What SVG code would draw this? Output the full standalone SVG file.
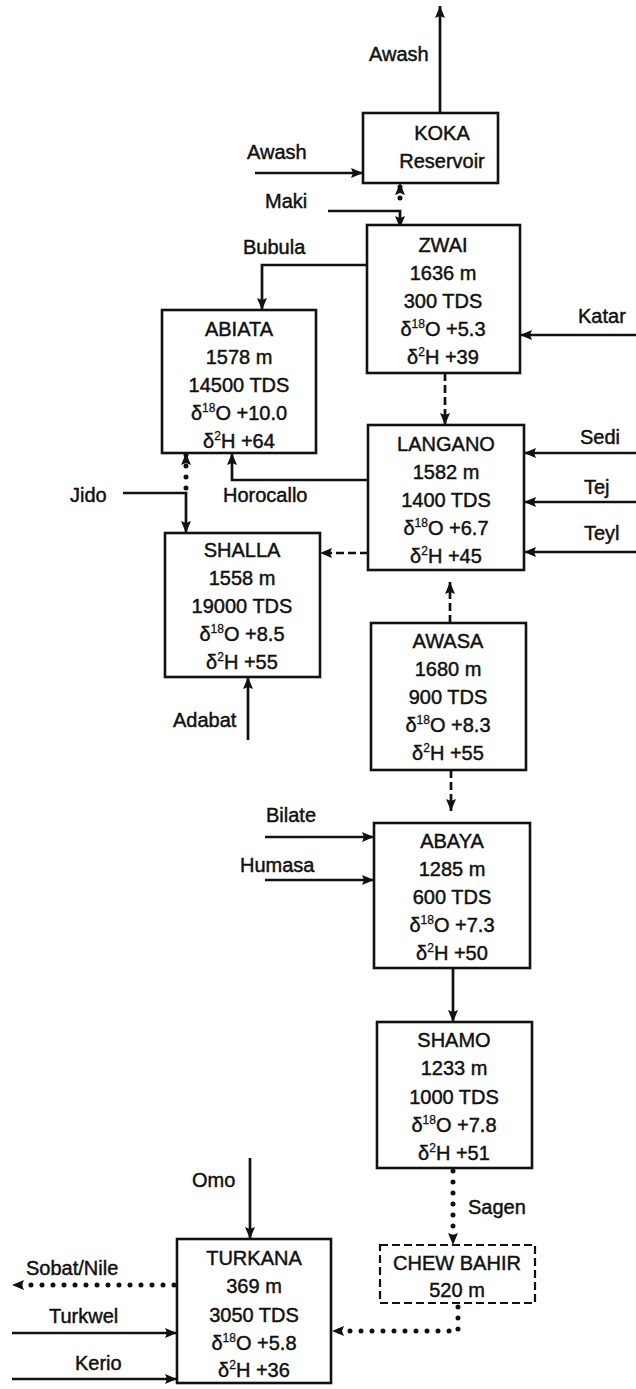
<svg xmlns="http://www.w3.org/2000/svg" width="636" height="1389" viewBox="0 0 636 1389">
<style>
text{font-family:"Liberation Sans",Arial,sans-serif;font-size:20px;fill:#111;stroke:#111;stroke-width:0.45}
.n text{text-anchor:middle}
.box{fill:#fff;stroke:#111;stroke-width:2.6}
.dbox{fill:#fff;stroke:#111;stroke-width:2.2;stroke-dasharray:8 4}
.c{fill:none;stroke:#111;stroke-width:2.7}
.dash{stroke-dasharray:8 4}
.dot{stroke-width:5;stroke-linecap:round;stroke-dasharray:0 11}
.sup{font-size:12px;stroke-width:0.3}
</style>
<defs>
<marker id="a" markerUnits="userSpaceOnUse" viewBox="0 0 12 10" markerWidth="12" markerHeight="10" refX="12" refY="5" orient="auto">
<path d="M0,0 L12,5 L0,10 L2,5 z" fill="#111" stroke="none"/>
</marker>
</defs>
<g id="connectors">
<line class="c" x1="440" y1="113" x2="440" y2="6" marker-end="url(#a)"/>
<line class="c" x1="255" y1="173" x2="363" y2="173" marker-end="url(#a)"/>
<line class="c dot" x1="400" y1="198" x2="400" y2="183" marker-end="url(#a)"/>
<polyline class="c" points="328,211 400,211 400,228" marker-end="url(#a)"/>
<polyline class="c" points="367,265 262,265 262,310" marker-end="url(#a)"/>
<line class="c" x1="636" y1="335" x2="520" y2="335" marker-end="url(#a)"/>
<line class="c dash" x1="445" y1="373" x2="445" y2="425" marker-end="url(#a)"/>
<line class="c" x1="636" y1="453" x2="524" y2="453" marker-end="url(#a)"/>
<line class="c" x1="636" y1="502" x2="524" y2="502" marker-end="url(#a)"/>
<line class="c" x1="636" y1="552" x2="524" y2="552" marker-end="url(#a)"/>
<polyline class="c" points="368,480 232,480 232,453" marker-end="url(#a)"/>
<line class="c dot" x1="186" y1="488" x2="186" y2="453" marker-end="url(#a)"/>
<polyline class="c" points="123,493 186,493 186,533" marker-end="url(#a)"/>
<line class="c dash" x1="368" y1="553" x2="320" y2="553" marker-end="url(#a)"/>
<line class="c" x1="248" y1="740" x2="248" y2="677" marker-end="url(#a)"/>
<line class="c dash" x1="450" y1="623" x2="450" y2="582" marker-end="url(#a)"/>
<line class="c dash" x1="451" y1="770" x2="451" y2="811" marker-end="url(#a)"/>
<line class="c" x1="265" y1="837" x2="374" y2="837" marker-end="url(#a)"/>
<line class="c" x1="265" y1="880" x2="374" y2="880" marker-end="url(#a)"/>
<line class="c" x1="453" y1="968" x2="453" y2="1022" marker-end="url(#a)"/>
<line class="c dot" x1="453" y1="1171" x2="453" y2="1245" marker-end="url(#a)"/>
<line class="c" x1="250" y1="1158" x2="250" y2="1239" marker-end="url(#a)"/>
<line class="c dot" x1="174" y1="1285" x2="12" y2="1285" marker-end="url(#a)"/>
<line class="c" x1="12" y1="1333" x2="177" y2="1333" marker-end="url(#a)"/>
<line class="c" x1="12" y1="1379" x2="177" y2="1379" marker-end="url(#a)"/>
<polyline class="c dot" points="458,1307 458,1331 332,1331" marker-end="url(#a)"/>
</g>
<g id="labels">
<text x="369" y="61">Awash</text>
<text x="247" y="159">Awash</text>
<text x="265" y="208">Maki</text>
<text x="243" y="254">Bubula</text>
<text x="578" y="323">Katar</text>
<text x="580" y="444">Sedi</text>
<text x="584" y="494">Tej</text>
<text x="584" y="540">Teyl</text>
<text x="70" y="502">Jido</text>
<text x="223" y="502">Horocallo</text>
<text x="173" y="727">Adabat</text>
<text x="266" y="822">Bilate</text>
<text x="240" y="872">Humasa</text>
<text x="192" y="1187">Omo</text>
<text x="468" y="1214">Sagen</text>
<text x="26" y="1275">Sobat/Nile</text>
<text x="49" y="1323">Turkwel</text>
<text x="75" y="1370">Kerio</text>
</g>
<g id="koka" class="n">
<rect class="box" x="363" y="113" width="135" height="70"/>
<text x="442" y="140">KOKA</text>
<text x="442" y="168">Reservoir</text>
</g>
<g id="zwai" class="n">
<rect class="box" x="367" y="225" width="153" height="148"/>
<text x="443" y="252">ZWAI</text>
<text x="443" y="280">1636 m</text>
<text x="443" y="308">300 TDS</text>
<text x="443" y="336">δ<tspan class="sup" dy="-8">18</tspan><tspan dy="8">O +5.3</tspan></text>
<text x="443" y="364">δ<tspan class="sup" dy="-8">2</tspan><tspan dy="8">H +39</tspan></text>
</g>
<g id="abiata" class="n">
<rect class="box" x="162" y="310" width="154" height="143"/>
<text x="239" y="336">ABIATA</text>
<text x="239" y="364">1578 m</text>
<text x="239" y="392">14500 TDS</text>
<text x="239" y="420">δ<tspan class="sup" dy="-8">18</tspan><tspan dy="8">O +10.0</tspan></text>
<text x="239" y="448">δ<tspan class="sup" dy="-8">2</tspan><tspan dy="8">H +64</tspan></text>
</g>
<g id="langano" class="n">
<rect class="box" x="368" y="425" width="156" height="145"/>
<text x="446" y="451">LANGANO</text>
<text x="446" y="479">1582 m</text>
<text x="446" y="507">1400 TDS</text>
<text x="446" y="535">δ<tspan class="sup" dy="-8">18</tspan><tspan dy="8">O +6.7</tspan></text>
<text x="446" y="563">δ<tspan class="sup" dy="-8">2</tspan><tspan dy="8">H +45</tspan></text>
</g>
<g id="shalla" class="n">
<rect class="box" x="165" y="533" width="155" height="144"/>
<text x="242" y="557">SHALLA</text>
<text x="242" y="585">1558 m</text>
<text x="242" y="613">19000 TDS</text>
<text x="242" y="641">δ<tspan class="sup" dy="-8">18</tspan><tspan dy="8">O +8.5</tspan></text>
<text x="242" y="669">δ<tspan class="sup" dy="-8">2</tspan><tspan dy="8">H +55</tspan></text>
</g>
<g id="awasa" class="n">
<rect class="box" x="371" y="623" width="155" height="147"/>
<text x="448" y="648">AWASA</text>
<text x="448" y="676">1680 m</text>
<text x="448" y="704">900 TDS</text>
<text x="448" y="732">δ<tspan class="sup" dy="-8">18</tspan><tspan dy="8">O +8.3</tspan></text>
<text x="448" y="760">δ<tspan class="sup" dy="-8">2</tspan><tspan dy="8">H +55</tspan></text>
</g>
<g id="abaya" class="n">
<rect class="box" x="374" y="823" width="156" height="145"/>
<text x="452" y="848">ABAYA</text>
<text x="452" y="876">1285 m</text>
<text x="452" y="904">600 TDS</text>
<text x="452" y="932">δ<tspan class="sup" dy="-8">18</tspan><tspan dy="8">O +7.3</tspan></text>
<text x="452" y="960">δ<tspan class="sup" dy="-8">2</tspan><tspan dy="8">H +50</tspan></text>
</g>
<g id="shamo" class="n">
<rect class="box" x="377" y="1022" width="155" height="146"/>
<text x="454" y="1047">SHAMO</text>
<text x="454" y="1075">1233 m</text>
<text x="454" y="1104">1000 TDS</text>
<text x="454" y="1132">δ<tspan class="sup" dy="-8">18</tspan><tspan dy="8">O +7.8</tspan></text>
<text x="454" y="1160">δ<tspan class="sup" dy="-8">2</tspan><tspan dy="8">H +51</tspan></text>
</g>
<g id="chewbahir" class="n">
<rect class="dbox" x="380" y="1245" width="155" height="58"/>
<text x="457" y="1270">CHEW BAHIR</text>
<text x="457" y="1297">520 m</text>
</g>
<g id="turkana" class="n">
<rect class="box" x="177" y="1239" width="154" height="144"/>
<text x="254" y="1265">TURKANA</text>
<text x="254" y="1293">369 m</text>
<text x="254" y="1322">3050 TDS</text>
<text x="254" y="1350">δ<tspan class="sup" dy="-8">18</tspan><tspan dy="8">O +5.8</tspan></text>
<text x="254" y="1377">δ<tspan class="sup" dy="-8">2</tspan><tspan dy="8">H +36</tspan></text>
</g>
</svg>
